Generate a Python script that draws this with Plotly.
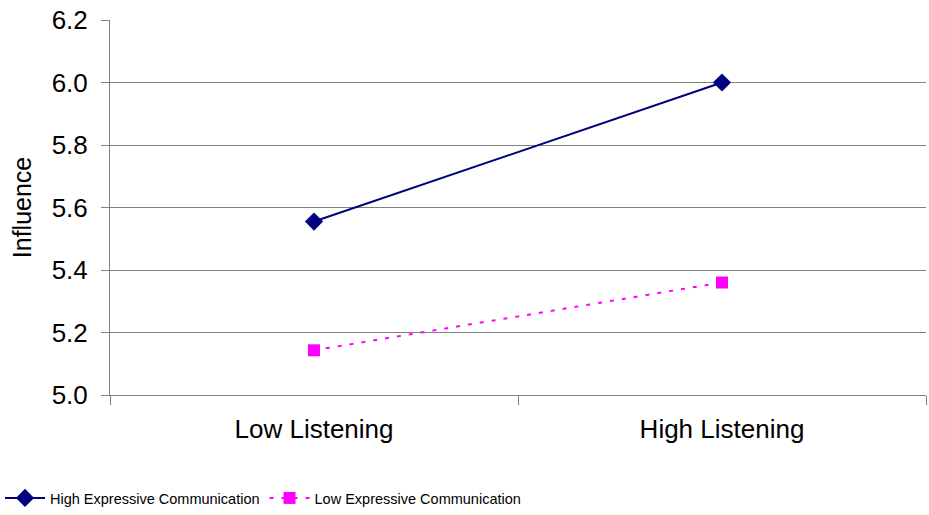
import plotly.graph_objects as go

categories = ["Low Listening", "High Listening"]
high_expr = [5.555, 6.0]
low_expr = [5.143, 5.36]
y_ticks = [5.0, 5.2, 5.4, 5.6, 5.8, 6.0, 6.2]

fig = go.Figure()
fig.add_trace(go.Scatter(
    x=categories, y=high_expr, name="High Expressive Communication",
    mode="lines+markers",
    line=dict(color="#000080", width=2),
    marker=dict(symbol="diamond", size=14, color="#000080"),
))
fig.add_trace(go.Scatter(
    x=categories, y=low_expr, name="Low Expressive Communication",
    mode="lines+markers",
    line=dict(color="#FF00FF", width=2, dash="4px,8px"),
    marker=dict(symbol="square", size=12, color="#FF00FF"),
))

font = "Liberation Sans, Arial, sans-serif"
fig.update_layout(
    width=929, height=515,
    margin=dict(l=110, r=3, t=20, b=120, autoexpand=False),
    plot_bgcolor="white", paper_bgcolor="white",
    font=dict(family=font, size=26, color="black"),
    showlegend=True,
    legend=dict(
        orientation="h", xref="container", yref="container",
        x=-0.004, xanchor="left", y=0.033, yanchor="middle",
        font=dict(family=font, size=14.5),
        itemwidth=40, tracegroupgap=0, bgcolor="rgba(0,0,0,0)",
    ),
    xaxis=dict(
        type="category", tickson="boundaries", ticks="outside", ticklen=9,
        tickcolor="#808080", showline=True, linecolor="#808080", linewidth=1,
        showgrid=False, ticklabelstandoff=11, automargin=False,
        tickfont=dict(size=26), range=[-0.5, 1.5],
    ),
    yaxis=dict(
        range=[5.0, 6.2], tickvals=y_ticks, ticktext=[f"{v:.1f}" for v in y_ticks],
        ticks="outside", ticklen=8, tickcolor="#808080",
        showline=True, linecolor="#808080", linewidth=1,
        showgrid=True, gridcolor="#808080", gridwidth=1,
        zeroline=False, ticklabelstandoff=8, automargin=False,
        title=dict(text="Influence", font=dict(size=25), standoff=12),
        tickfont=dict(size=26),
    ),
)

fig.write_html(
    "out.html",
    config={"responsive": False, "displayModeBar": False},
    post_script="document.body.style.margin='0';document.body.style.overflow='hidden';",
)
